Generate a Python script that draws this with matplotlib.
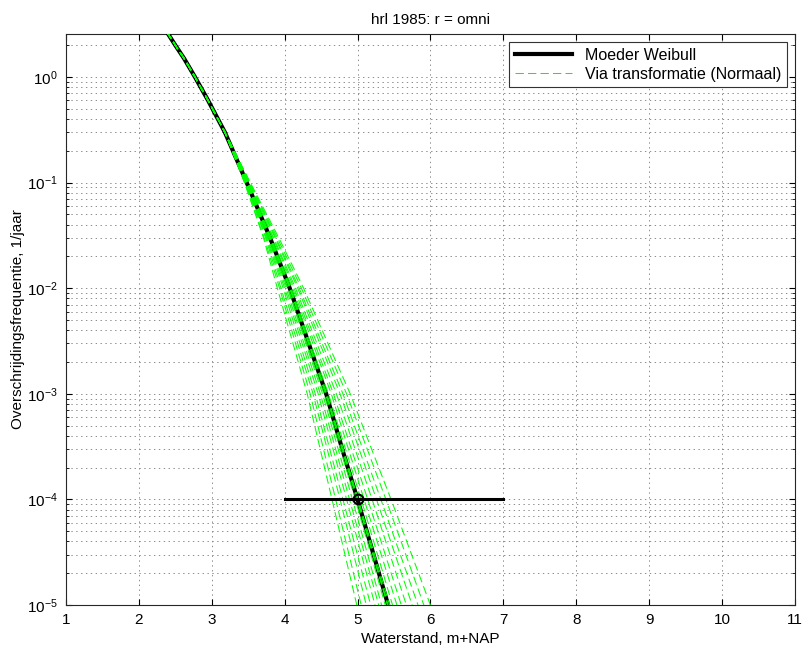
import matplotlib
matplotlib.use("Agg")
import matplotlib.pyplot as plt

plt.rcParams["font.family"] = ["Liberation Sans", "DejaVu Sans"]
plt.rcParams["mathtext.fontset"] = "custom"
plt.rcParams["mathtext.rm"] = "Liberation Sans"
plt.rcParams["mathtext.it"] = "Liberation Sans:italic"
plt.rcParams["lines.scale_dashes"] = False

# Moeder Weibull (waterstand vs overschrijdingsfrequentie)
weibull_x = [2.38, 2.50, 2.62, 2.77, 2.95, 3.18, 3.48, 3.80, 4.07, 4.33, 4.57, 4.79, 5.00, 5.22, 5.42]
weibull_y = [2.7, 2.0, 1.5, 1.0, 0.6, 0.3, 0.1, 0.03, 1e-2, 3e-3, 1e-3, 3e-4, 1e-4, 3e-5, 1e-5]

# transformed curves share the Weibull trunk down to 0.3/jaar, then fan out
trunk_n = 6
tail_y = [0.1, 0.03, 1e-2, 1e-3, 1e-4, 1e-5]
tail_x = [
    [3.45, 3.71, 3.90, 4.31, 4.65, 4.99],
    [3.45, 3.72, 3.93, 4.35, 4.70, 5.05],
    [3.46, 3.74, 3.95, 4.39, 4.76, 5.12],
    [3.46, 3.75, 3.98, 4.42, 4.80, 5.18],
    [3.47, 3.76, 4.00, 4.46, 4.85, 5.24],
    [3.47, 3.77, 4.02, 4.49, 4.89, 5.29],
    [3.47, 3.78, 4.04, 4.52, 4.93, 5.33],
    [3.48, 3.79, 4.05, 4.54, 4.97, 5.38],
    [3.48, 3.80, 4.07, 4.56, 4.99, 5.41],
    [3.48, 3.80, 4.07, 4.57, 5.00, 5.42],
    [3.48, 3.80, 4.08, 4.58, 5.01, 5.44],
    [3.49, 3.81, 4.09, 4.60, 5.05, 5.48],
    [3.49, 3.82, 4.11, 4.64, 5.09, 5.54],
    [3.50, 3.84, 4.13, 4.67, 5.14, 5.60],
    [3.50, 3.85, 4.15, 4.71, 5.20, 5.67],
    [3.51, 3.87, 4.18, 4.76, 5.26, 5.75],
    [3.52, 3.88, 4.20, 4.80, 5.32, 5.83],
    [3.52, 3.90, 4.23, 4.85, 5.39, 5.91],
    [3.53, 3.92, 4.26, 4.90, 5.46, 6.00],
]

# horizontal bar at the 1e-4 norm, with the design point
hbar_x = [4, 7]
hbar_y = [1e-4, 1e-4]
point_x = [5.0]
point_y = [1e-4]

fig = plt.figure(figsize=(8.04, 6.55), dpi=100)
ax = fig.add_axes([0.082, 0.0763, 0.9067, 0.8717])

ax.semilogy(weibull_x, weibull_y, color="black", linewidth=3.0,
            label="Moeder Weibull", zorder=3)
for i, tx in enumerate(tail_x):
    ax.plot(weibull_x[:trunk_n] + tx, weibull_y[:trunk_n] + tail_y,
            color="#00ff00", linewidth=0.75, dashes=(6, 3), zorder=4,
            label="Via transformatie (Normaal)" if i == 0 else None)
ax.plot(hbar_x, hbar_y, color="black", linewidth=2.2, zorder=5)
ax.plot(point_x, point_y, "o", color="black", markerfacecolor="none",
        markersize=7, markeredgewidth=1.5, zorder=6)

ax.set_xlim(1, 11)
ax.set_ylim(1e-5, 2.55)
ax.set_xticks(range(1, 12))

ax.grid(True, which="major", linestyle=(0, (1, 2.5)), color="0.55", linewidth=0.7)
ax.grid(True, which="minor", axis="y", linestyle=(0, (1, 2.5)), color="0.55", linewidth=0.7)
ax.tick_params(which="both", direction="in", top=True, right=True, labelsize=11)
ax.tick_params(which="major", length=4, pad=6)
ax.tick_params(which="minor", length=2)
for s in ax.spines.values():
    s.set_linewidth(0.8)
    s.set_color("0.15")

ax.set_xlabel("Waterstand, m+NAP", fontsize=11, labelpad=3)
ax.set_ylabel("Overschrijdingsfrequentie, 1/jaar", fontsize=11, labelpad=1)
ax.set_title("hrl 1985: r = omni", fontsize=11, pad=7)

leg = ax.legend(loc="upper right", fontsize=11.5, handlelength=3.6,
                fancybox=False, framealpha=1, edgecolor="0.2",
                borderaxespad=0.5, labelspacing=0.25, borderpad=0.35)
leg.get_frame().set_linewidth(0.8)

fig.savefig("out.png", dpi=100)
